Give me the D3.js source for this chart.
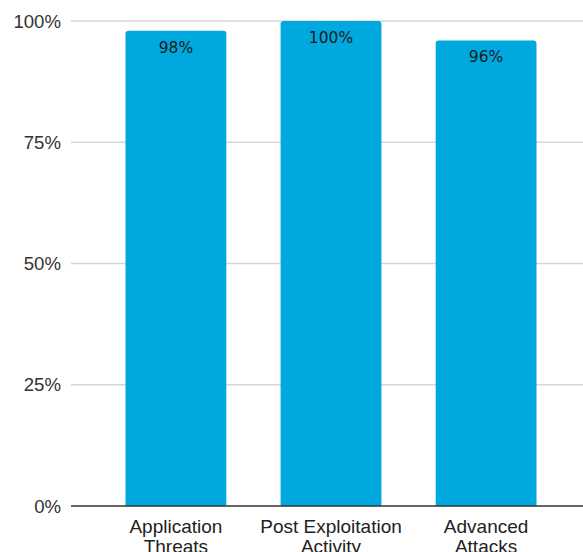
<!DOCTYPE html>
<html>
<head>
<meta charset="utf-8">
<script src="https://cdn.jsdelivr.net/npm/d3@7"></script>
<style>
  body { margin: 0; background: #fff; overflow: hidden; }
  text { font-family: "Liberation Sans", Arial, sans-serif; }
  text.val { font-family: "DejaVu Sans", sans-serif; }
</style>
</head>
<body>
<div id="chart"></div>
<script>
var categories = [["Application", "Threats"], ["Post Exploitation", "Activity"], ["Advanced", "Attacks"]];
var values = [0.98, 1.00, 0.96];
var valueLabels = ["98%", "100%", "96%"];
var yTicks = [0, 0.25, 0.5, 0.75, 1];

var W = 583, H = 552;
var margin = {top: 21, right: 0, bottom: 46, left: 72};

var svg = d3.select("#chart").append("svg")
    .attr("width", W)
    .attr("height", H);

var x = d3.scaleBand()
    .domain(d3.range(categories.length))
    .range([margin.left, 590])
    .paddingInner(0.35)
    .paddingOuter(0.345);

var y = d3.scaleLinear()
    .domain([0, 1])
    .range([H - margin.bottom, margin.top]);

// gridlines
svg.append("g")
  .selectAll("line")
  .data(yTicks.filter(function(d) { return d > 0; }))
  .enter().append("line")
    .attr("x1", margin.left - 1)
    .attr("x2", W)
    .attr("y1", function(d) { return y(d); })
    .attr("y2", function(d) { return y(d); })
    .attr("stroke", "#d6d6d6")
    .attr("stroke-width", 1.3);

// y labels
svg.append("g")
  .selectAll("text")
  .data(yTicks)
  .enter().append("text")
    .attr("x", 61)
    .attr("y", function(d) { return y(d); })
    .attr("dy", "0.36em")
    .attr("text-anchor", "end")
    .attr("font-size", 18.6)
    .attr("fill", "#333")
    .text(function(d) { return d3.format(".0%")(d); });

// bars with rounded top corners
var r = 3;
svg.append("g")
  .selectAll("path")
  .data(values)
  .enter().append("path")
    .attr("fill", "#00a8e0")
    .attr("d", function(d, i) {
      var x0 = x(i), x1 = x(i) + x.bandwidth(), y0 = y(0), y1 = y(d);
      return "M" + x0 + "," + y0 +
        "V" + (y1 + r) +
        "Q" + x0 + "," + y1 + " " + (x0 + r) + "," + y1 +
        "H" + (x1 - r) +
        "Q" + x1 + "," + y1 + " " + x1 + "," + (y1 + r) +
        "V" + y0 + "Z";
    });

// value labels
svg.append("g")
  .selectAll("text")
  .data(values)
  .enter().append("text")
    .attr("class", "val")
    .attr("x", function(d, i) { return x(i) + x.bandwidth() / 2; })
    .attr("y", function(d) { return y(d) + 22; })
    .attr("text-anchor", "middle")
    .attr("font-size", 15.5)
    .attr("fill", "#1a1a1a")
    .text(function(d, i) { return valueLabels[i]; });

// baseline
svg.append("line")
    .attr("x1", margin.left - 1)
    .attr("x2", W)
    .attr("y1", y(0))
    .attr("y2", y(0))
    .attr("stroke", "#333")
    .attr("stroke-width", 1.3);

// category labels
var cat = svg.append("g")
  .selectAll("text")
  .data(categories)
  .enter().append("text")
    .attr("text-anchor", "middle")
    .attr("font-size", 19)
    .attr("fill", "#222");
cat.selectAll("tspan")
  .data(function(d, i) { return d.map(function(t) { return {t: t, i: i}; }); })
  .enter().append("tspan")
    .attr("x", function(d) { return x(d.i) + x.bandwidth() / 2; })
    .attr("y", function(d, j) { return y(0) + 27 + j * 20; })
    .text(function(d) { return d.t; });
</script>
</body>
</html>
